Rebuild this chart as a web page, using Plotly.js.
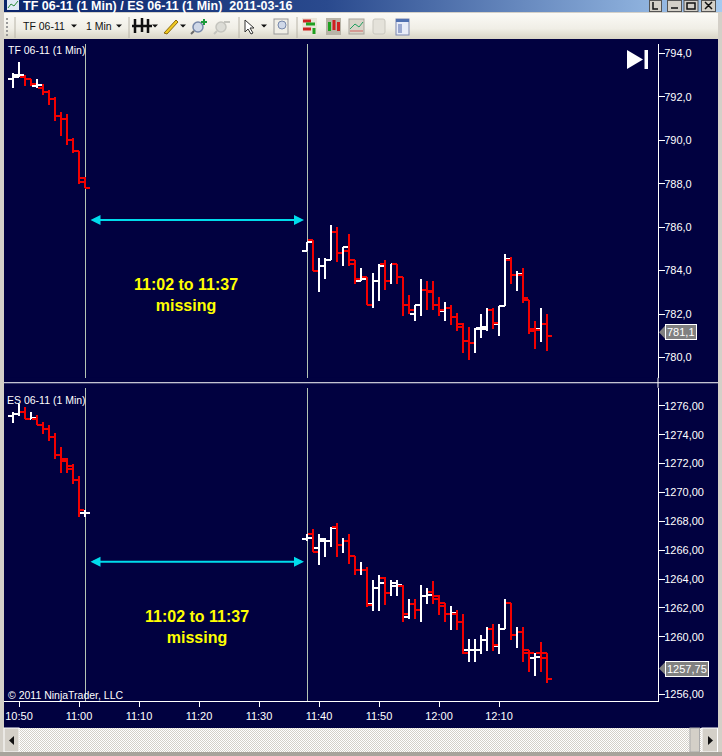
<!DOCTYPE html>
<html><head><meta charset="utf-8">
<script src="https://cdn.plot.ly/plotly-3.0.1.min.js"></script>
<style>html,body{margin:0;padding:0;background:#d4d0c8;width:722px;height:756px;overflow:hidden}
#wrap{position:relative;width:722px;height:756px}
#back,#chart{position:absolute;left:0;top:0;width:722px;height:756px}</style></head>
<body><div id="wrap">
<svg id="back" width="722" height="756" xmlns="http://www.w3.org/2000/svg">
<defs>
<linearGradient id="tb" x1="0" x2="1" y1="0" y2="0"><stop offset="0" stop-color="#0a246a"/><stop offset="0.45" stop-color="#2a4a8e"/><stop offset="1" stop-color="#a6caf0"/></linearGradient>
<linearGradient id="tool" x1="0" x2="0" y1="0" y2="1"><stop offset="0" stop-color="#fbfaf6"/><stop offset="0.6" stop-color="#f0eee6"/><stop offset="1" stop-color="#d8d4c6"/></linearGradient>
<pattern id="dith" width="2" height="2" patternUnits="userSpaceOnUse"><rect width="2" height="2" fill="#fff"/><rect width="1" height="1" fill="#d4d0c8"/><rect x="1" y="1" width="1" height="1" fill="#d4d0c8"/></pattern>
</defs>
<rect width="722" height="756" fill="#d4d0c8"/>
<rect x="4" y="0" width="718" height="12" fill="url(#tb)"/>
<rect x="7" y="0" width="12" height="10" fill="#dfe8f5"/><path d="M8 8 L11 4 L14 6 L18 1" stroke="#2a8a3a" fill="none"/>
<rect x="4" y="13" width="714" height="26" fill="url(#tool)"/>
<g fill="#d4d0c8" stroke="#555" stroke-width="1">
<rect x="649.5" y="0.5" width="12" height="11"/><rect x="667.5" y="0.5" width="14" height="11"/><rect x="684" y="0.5" width="14" height="11"/><rect x="701.5" y="0.5" width="14" height="11"/>
</g>
<path d="M653 2V9H658M671 8H678M687 3H695V9H687ZM705 2L712 9M712 2L705 9" stroke="#111" stroke-width="1.5" fill="none"/>
<path d="M15 17V38M129 17V38M239 17V38M297 17V38" stroke="#b8b4a8"/>
<path d="M7 18V36" stroke="#999" stroke-dasharray="2 2" stroke-width="2"/>
<path d="M71 24.5h6l-3 3zM116 24.5h6l-3 3zM152 24.5h6l-3 3zM180 24.5h6l-3 3zM261 24.5h6l-3 3z" fill="#111"/>
<path d="M135 19V33M142 18V32M148 19V33M132 26H152" stroke="#111" stroke-width="2.5" fill="none"/>
<path d="M164 33L176 20L178 22L167 34Z" fill="#f0c820" stroke="#8a6a10"/>
<circle cx="198" cy="27" r="5" fill="#cfd8e8" stroke="#7788aa" stroke-width="1.5"/><path d="M194 31L191 34" stroke="#6a6a6a" stroke-width="2"/><path d="M201 22h6M204 19v6" stroke="#1a9a3a" stroke-width="2"/>
<circle cx="221" cy="27" r="5" fill="#dcdcd6" stroke="#c4c4be" stroke-width="1.5"/><path d="M217 31L214 34" stroke="#c4c4be" stroke-width="2"/><path d="M224 22h6" stroke="#c4c4be" stroke-width="2"/>
<path d="M245 20V32L248 29L251 34L253 33L250 28H254Z" fill="#fff" stroke="#333"/>
<rect x="274" y="19" width="14" height="15" fill="#f0eee6" stroke="#999"/><circle cx="282" cy="25" r="4" fill="#cfd8e8" stroke="#7788aa"/>
<rect x="302" y="18" width="15" height="17" fill="#e8e4d8"/><path d="M303 21H311M303 29H311" stroke="#d02020" stroke-width="3"/><path d="M306 24H315" stroke="#20a020" stroke-width="3"/><path d="M314 28V34" stroke="#20a020" stroke-width="3"/>
<rect x="326" y="18" width="15" height="17" fill="#b8b4a8"/><rect x="328" y="22" width="3" height="9" fill="#20a020"/><rect x="332.5" y="20" width="3" height="10" fill="#d02020"/><rect x="337" y="22" width="3" height="9" fill="#d02020"/>
<rect x="349" y="19" width="15" height="15" fill="#d8d4c8" stroke="#a8a49c"/><path d="M350 29L355 24L359 27L363 22" stroke="#20a060" fill="none"/><path d="M350 31H363" stroke="#d06060"/>
<rect x="373" y="19" width="12" height="15" rx="2" fill="#e4e2da" stroke="#c8c6be"/>
<rect x="396" y="19" width="13" height="16" fill="#e8ecf8" stroke="#7c88b0"/><rect x="396" y="19" width="13" height="3" fill="#5070b0"/><rect x="398" y="24" width="4" height="9" fill="#9aa8d0"/>
<rect x="4" y="39" width="714" height="689" fill="#010140"/>
<rect x="4" y="728" width="714" height="24" fill="url(#dith)"/>
<rect x="4" y="728" width="15" height="24" fill="#d4d0c8" stroke="#fff"/><path d="M14 736V745L9 740.5Z" fill="#111"/>
<rect x="690" y="728" width="9.5" height="24" fill="#d4d0c8" stroke="#aaa"/>
<rect x="702" y="728" width="15.5" height="24" fill="#d4d0c8" stroke="#fff"/><path d="M708 736V745L713 740.5Z" fill="#111"/>
<rect x="0" y="752" width="722" height="4" fill="#a8a49c"/>
</svg>
<div id="chart"></div></div>
<script>
var times = ["10:49","10:50","10:51","10:52","10:53","10:54","10:55","10:56","10:57","10:58","10:59","11:00","11:01",
"11:38","11:39","11:40","11:41","11:42","11:43","11:44","11:45","11:46","11:47","11:48","11:49","11:50","11:51","11:52","11:53","11:54","11:55","11:56","11:57","11:58","11:59",
"12:00","12:01","12:02","12:03","12:04","12:05","12:06","12:07","12:08","12:09","12:10","12:11","12:12","12:13","12:14","12:15","12:16","12:17","12:18"];
var tfOpen = [792.8,792.9,792.9,792.8,792.5,792.4,792.2,791.9,791.1,791.0,790.0,789.5,788.25,
784.9,785.4,784.0,784.2,784.5,785.8,784.8,784.9,784.5,783.5,783.7,782.4,783.5,784.3,783.5,784.3,783.7,782.4,782.0,782.4,783.1,783.0,782.4,782.15,782.3,781.85,781.4,780.75,780.65,781.35,781.3,782.2,781.55,782.35,784.5,783.8,783.8,782.65,781.3,781.3,781.55];
var tfHigh = [793.1,793.6,793.0,792.8,792.8,792.6,792.3,792.0,791.3,791.2,790.1,789.5,788.3,
785.3,785.4,784.6,784.6,786.1,786.0,785.1,785.7,784.5,784.1,783.7,783.9,784.3,784.5,784.3,784.3,783.7,782.9,782.4,783.6,783.5,783.5,782.8,782.55,782.4,782.05,781.6,781.4,781.35,782.0,782.3,782.3,782.35,784.75,784.65,784.0,784.1,782.65,781.7,782.3,782.0];
var tfLow = [792.4,792.9,792.5,792.5,792.4,792.1,791.6,790.9,790.2,789.8,789.4,788.0,787.8,
784.9,784.0,783.0,783.6,784.5,784.4,784.2,784.2,783.4,783.5,782.4,782.3,782.6,783.1,783.4,783.4,781.9,782.0,781.7,781.9,782.2,782.2,781.9,781.7,781.5,781.2,780.2,779.9,780.2,780.9,781.2,781.3,781.0,782.35,783.4,783.05,782.5,781.1,780.4,780.7,780.3];
var tfClose = [793.0,793.0,792.8,792.6,792.55,792.2,791.9,791.1,791.0,790.0,789.5,788.1,787.8,
785.3,784.0,784.2,784.5,785.8,784.8,785.1,784.3,783.6,783.6,782.4,783.5,784.2,783.5,784.3,783.7,782.4,782.2,782.4,783.1,783.05,782.4,782.2,782.3,781.85,781.55,780.75,780.65,781.3,781.4,782.2,781.6,782.35,784.55,783.8,783.85,782.75,781.2,781.25,781.55,781.0];
var esOpen = [1275.3,1275.45,1275.6,1275.1,1275.1,1274.7,1274.4,1273.85,1272.6,1272.15,1271.85,1270.85,1268.55,
1266.8,1267.1,1266.15,1266.6,1266.6,1267.6,1266.35,1266.6,1265.6,1264.6,1264.6,1262.3,1263.4,1264.1,1263.05,1263.55,1263.55,1261.35,1262.3,1261.85,1262.85,1263.1,1262.85,1262.35,1261.6,1261.6,1261.05,1259.05,1259.05,1259.05,1259.8,1260.55,1259.35,1260.55,1262.35,1260.1,1260.35,1259.05,1258.55,1258.85,1258.85];
var esHigh = [1275.6,1276.15,1275.9,1275.6,1275.35,1274.9,1274.65,1274.1,1273.15,1272.4,1271.95,1271.15,1268.8,
1267.1,1267.45,1267.1,1266.85,1267.6,1267.9,1266.85,1267.1,1265.6,1265.15,1264.85,1263.9,1264.3,1264.15,1263.9,1263.9,1263.6,1262.65,1262.65,1263.6,1263.4,1263.85,1262.9,1262.35,1262.1,1261.85,1261.6,1259.85,1259.85,1260.15,1260.65,1260.9,1260.9,1262.6,1262.35,1260.65,1260.65,1259.1,1258.9,1259.65,1258.9];
var esLow = [1274.8,1275.3,1275.1,1275.1,1274.65,1274.05,1273.55,1272.3,1271.35,1271.35,1270.55,1268.3,1268.3,
1266.65,1265.85,1265.0,1265.5,1266.25,1265.5,1265.8,1265.05,1264.25,1264.25,1262.05,1261.75,1261.75,1262.2,1262.8,1262.8,1261.0,1261.25,1261.25,1261.0,1262.25,1262.25,1261.5,1261.0,1260.5,1260.5,1258.8,1258.25,1258.25,1258.8,1259.0,1259.0,1258.8,1260.55,1259.75,1259.25,1258.25,1257.55,1257.25,1257.55,1256.8];
var esClose = [1275.45,1275.6,1275.1,1275.15,1274.7,1274.4,1273.85,1272.6,1272.3,1271.65,1270.85,1268.8,1268.6,
1266.85,1265.85,1266.8,1266.65,1267.55,1266.35,1266.6,1265.6,1264.6,1264.65,1262.2,1263.4,1263.75,1263.0,1263.75,1263.6,1261.55,1262.3,1261.85,1262.85,1262.9,1262.65,1262.1,1261.6,1261.65,1261.05,1258.85,1259.1,1259.1,1259.8,1260.55,1259.4,1260.55,1262.35,1260.1,1260.3,1258.85,1258.85,1258.6,1258.55,1257.1];
var xTickLabels = ["10:50","11:00","11:10","11:20","11:30","11:40","11:50","12:00","12:10"];
var tfTicks = [780,782,784,786,788,790,792,794];
var esTicks = [1256,1260,1262,1264,1266,1268,1270,1272,1274,1276];
var gapText = "11:02 to 11:37<br>missing";

var day = "2011-03-16 ";
function d(t){ return day + t; }
var PW = 654, PH = 657.5, L = 4, B = 701.5, UP = "#ffffff", DOWN = "#f20000", TICK_MS = 50000;
function px(x){ return (x-L)/PW; }
function py(y){ return (B-y)/PH; }
var xs = times.map(d);
function ms(t){ var p = t.split(":"); return Date.UTC(2011,2,16,+p[0],+p[1]); }
function ohlc(o,h,l,c,ya,name){
  return {type:"ohlc",name:name,x:xs,open:o,high:h,low:l,close:c,xaxis:"x",yaxis:ya,tickwidth:0.5,
    increasing:{line:{color:UP,width:2}},decreasing:{line:{color:DOWN,width:2}},hoverinfo:"skip"};
}
// Plotly caps the OHLC tick at half a bar; these carry the open/close ticks to their full length.
function ticks(o,c,ya,up){
  var X = [], Y = [];
  times.forEach(function(t,i){
    if((c[i] >= o[i]) !== up) return;
    var m = ms(t);
    X.push(m-TICK_MS,m,null,m,m+TICK_MS,null);
    Y.push(o[i],o[i],null,c[i],c[i],null);
  });
  return {type:"scatter",mode:"lines",x:X,y:Y,xaxis:"x",yaxis:ya,line:{color:up?UP:DOWN,width:2},hoverinfo:"skip",showlegend:false};
}
var FONT = "Liberation Sans, Arial, sans-serif";
function axis(dom,rng,ticks,fmt){
  return {domain:dom,range:rng,autorange:false,side:"right",anchor:"x",showgrid:false,zeroline:false,
    showline:true,linecolor:"#ffffff",linewidth:1,ticks:"outside",ticklen:6,tickcolor:"#ffffff",ticklabelstandoff:-3,
    tickvals:ticks,tickformat:fmt,tickfont:{color:"#ffffff",size:11,family:FONT},fixedrange:true};
}
function txt(t,x,y,o){
  return Object.assign({text:t,xref:"paper",yref:"paper",x:px(x),y:py(y),showarrow:false,xanchor:"left",yanchor:"middle",
    font:{family:FONT,size:10.5,color:"#ffffff"},borderpad:0},o||{});
}
function gapArrow(ya,lvl){
  return {xref:"x",yref:ya,axref:"x",ayref:ya,x:d("11:37:30"),y:lvl,ax:d("11:01:40"),ay:lvl,text:"",showarrow:true,
    arrowside:"end+start",arrowhead:2,startarrowhead:2,arrowsize:1,startarrowsize:1,arrowwidth:2,arrowcolor:"#00dcec",standoff:0,startstandoff:0};
}
function vline(t,y0,y1){
  return {type:"line",xref:"x",yref:"paper",x0:d(t),x1:d(t),y0:py(y0),y1:py(y1),line:{color:"#b4c4b4",width:1},layer:"below"};
}
function hl(x0,y0,x1,y1,color,w){
  return {type:"line",xref:"paper",yref:"paper",x0:px(x0),x1:px(x1),y0:py(y0),y1:py(y1),line:{color:color,width:w||1},layer:"above"};
}
function poly(pts,fill){
  var p = pts.map(function(q,i){return (i?"L":"M")+px(q[0])+" "+py(q[1]);}).join(" ")+" Z";
  return {type:"path",xref:"paper",yref:"paper",path:p,fillcolor:fill,line:{width:0},layer:"above"};
}
var layout = {
  width:722,height:756,margin:{l:L,r:722-L-PW,t:B-PH,b:756-B,pad:0},autosize:false,
  paper_bgcolor:"rgba(0,0,0,0)",plot_bgcolor:"#010140",showlegend:false,separators:",.",
  xaxis:{type:"date",anchor:"y2",range:[d("10:47:30"),d("12:36:30")],autorange:false,showgrid:false,zeroline:false,
    rangeslider:{visible:false},showline:true,linecolor:"#ffffff",linewidth:1,ticks:"outside",ticklen:5,tickcolor:"#ffffff",
    tickvals:xTickLabels.map(d),ticktext:xTickLabels,tickangle:0,tickfont:{color:"#ffffff",size:11,family:FONT},fixedrange:true},
  yaxis:axis([py(378),1],[779.07,794.43],tfTicks,".1f"),
  yaxis2:axis([0,py(388)],[1255.55,1277.25],esTicks,".2f"),
  shapes:[
    vline("11:01",44,378),vline("11:38",44,378),vline("11:01",388,B),vline("11:38",388,B),
    hl(4,383,718,383,"#ffffff",1),
    hl(658,378,658,388,"#ffffff",1),
    poly([[627,50],[643,59.5],[627,69]],"#ffffff"),
    poly([[644.5,50],[648,50],[648,69],[644.5,69]],"#ffffff"),
    poly([[659,332.5],[665,326],[665,339]],"#808080"),
    poly([[659,669],[665,662.7],[665,675]],"#808080")
  ],
  annotations:[
    txt("TF 06-11 (1 Min) / ES 06-11 (1 Min)  2011-03-16",22,6,{font:{family:FONT,size:12.5,color:"#ffffff",weight:700}}),
    txt("TF 06-11",22,26,{font:{family:FONT,size:10.5,color:"#111111"}}),
    txt("1 Min",85,26,{font:{family:FONT,size:10.5,color:"#111111"}}),
    txt("TF 06-11 (1 Min)",6.5,50.5),
    txt("ES 06-11 (1 Min)",6,400),
    txt("© 2011 NinjaTrader, LLC",6.5,695),
    gapArrow("y",786.33),gapArrow("y2",1265.2),
    txt(gapText,186,295,{xanchor:"center",align:"center",font:{family:FONT,size:16,color:"#ffff00",weight:700}}),
    txt(gapText,197,627,{xanchor:"center",align:"center",font:{family:FONT,size:16,color:"#ffff00",weight:700}}),
    txt("781,1",665,332.5,{bgcolor:"#808080",bordercolor:"#ffffff",borderwidth:1,borderpad:1,font:{family:FONT,size:11,color:"#ffffff"}}),
    txt("1257,75",665,669,{bgcolor:"#808080",bordercolor:"#ffffff",borderwidth:1,borderpad:1,font:{family:FONT,size:11,color:"#ffffff"}})
  ]
};
var traces = [
  ohlc(tfOpen,tfHigh,tfLow,tfClose,"y","TF 06-11"),
  ticks(tfOpen,tfClose,"y",true),ticks(tfOpen,tfClose,"y",false),
  ohlc(esOpen,esHigh,esLow,esClose,"y2","ES 06-11"),
  ticks(esOpen,esClose,"y2",true),ticks(esOpen,esClose,"y2",false)
];
Plotly.newPlot("chart",traces,layout,{displayModeBar:false,staticPlot:true}).then(function(gd){
  gd.querySelectorAll(".ohlclayer path, .scatterlayer path, .layer-below .shapelayer path").forEach(function(p){ p.style.shapeRendering = "crispEdges"; });
});
</script></body></html>
